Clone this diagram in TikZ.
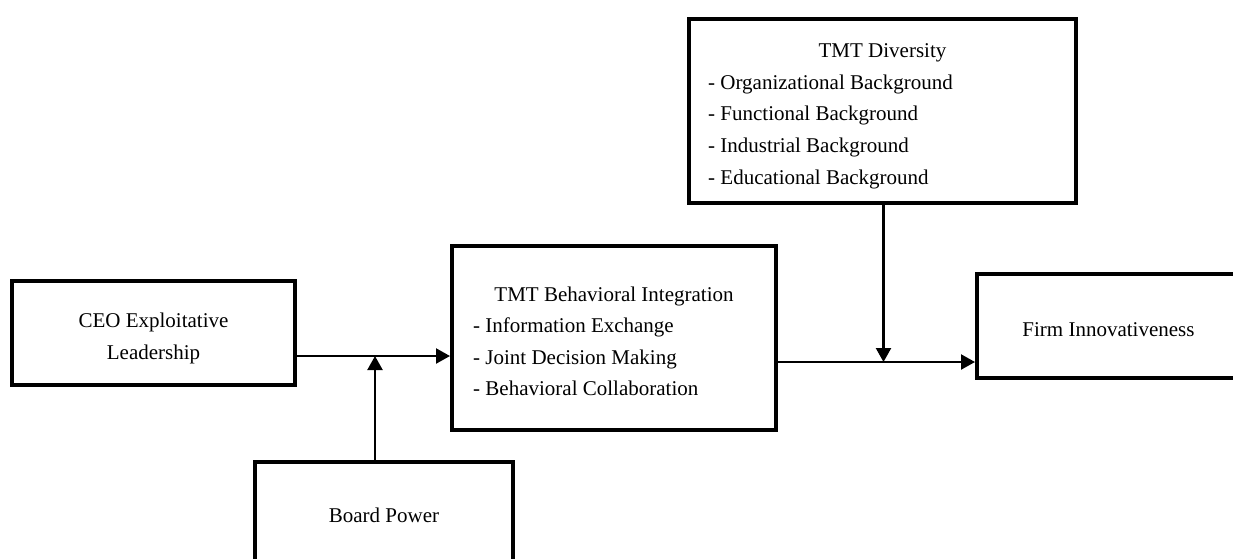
\documentclass[tikz,border=0pt]{standalone}
\usepackage{fontspec}
\setmainfont{Liberation Serif}
\usetikzlibrary{arrows.meta}
\begin{document}
\begin{tikzpicture}[x=1pt,y=-1pt,
  box/.style={draw=black,line width=4pt,rectangle,inner sep=0pt},
  lbl/.style={inner sep=0pt,font=\fontsize{21}{32}\selectfont},
  conn/.style={draw=black,line width=2.2pt,-{Triangle[length=14pt,width=15pt]}},
  line/.style={draw=black,line width=2.2pt}]
\useasboundingbox (0,0) rectangle (1233,558);
\clip (0,0) rectangle (1233,558);
% boxes
\node[box,minimum width=283pt,minimum height=104pt] (ceo) at (153.5,333) {};
\node[box,minimum width=324pt,minimum height=184pt] (bi) at (614,338) {};
\node[box,minimum width=387pt,minimum height=184pt] (div) at (882.5,111) {};
\node[box,minimum width=263pt,minimum height=104pt] (firm) at (1108.5,326) {};
\node[box,minimum width=258pt,minimum height=106pt] (board) at (384,515) {};
% texts
\node[lbl,anchor=base] (ceo1) at (153.5,327) {CEO Exploitative};
\node[lbl,anchor=base] (ceo2) at (153.5,359) {Leadership};
\node[lbl,anchor=base] (bi0) at (614,301) {TMT Behavioral Integration};
\node[lbl,anchor=base west] (bi1) at (473,332.5) {- Information Exchange};
\node[lbl,anchor=base west] (bi2) at (473,364) {- Joint Decision Making};
\node[lbl,anchor=base west] (bi3) at (473,395.5) {- Behavioral Collaboration};
\node[lbl,anchor=base] (div0) at (882.5,57) {TMT Diversity};
\node[lbl,anchor=base west] (div1) at (708,89) {- Organizational Background};
\node[lbl,anchor=base west] (div2) at (708,120.5) {- Functional Background};
\node[lbl,anchor=base west] (div3) at (708,152) {- Industrial Background};
\node[lbl,anchor=base west] (div4) at (708,184) {- Educational Background};
\node[lbl,anchor=base] (firmt) at (1108.5,336) {Firm Innovativeness};
\node[lbl,anchor=base] (boardt) at (384,522) {Board Power};
% moderation points
\coordinate (m1) at (375,356);
\coordinate (m2) at (883.5,362);
% connectors
\draw[conn] (ceo.east |- m1) -- (bi.west |- m1);
\draw[conn] (board.north -| m1) -- (m1);
\draw[conn] (bi.east |- m2) -- (firm.west |- m2);
\draw[conn] (div.south -| m2) -- (m2);
\end{tikzpicture}
\end{document}
